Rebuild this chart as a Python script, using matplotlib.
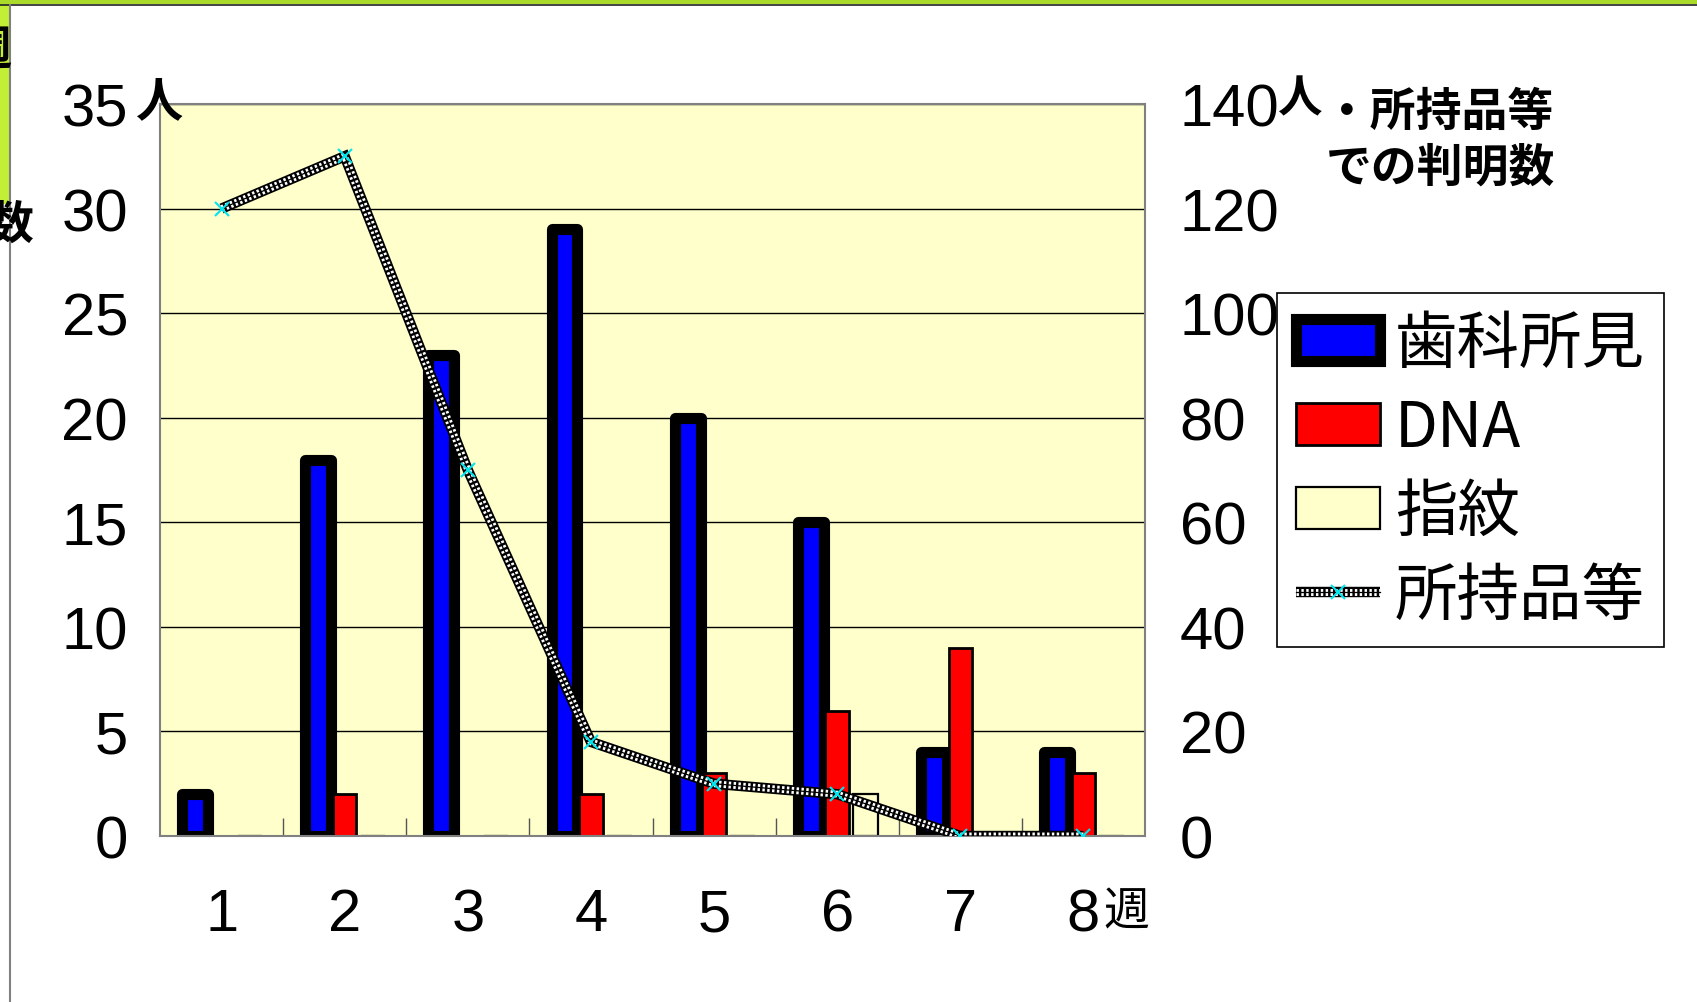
import matplotlib.pyplot as plt
from matplotlib.patches import Rectangle
from matplotlib.lines import Line2D
from matplotlib.legend_handler import HandlerTuple
import numpy as np

W, H = 1697, 1003

# data
weeks = [1, 2, 3, 4, 5, 6, 7, 8]
weekLabels = ["1", "2", "3", "4", "5", "6", "7", "8"]
dental = [2, 18, 23, 29, 20, 15, 4, 4]
dna = [0, 2, 0, 2, 3, 6, 9, 3]
fingerprint = [0, 0, 0, 0, 0, 2, 0, 0]
belongings = [120, 130, 70, 18, 10, 8, 0, 0]
leftTicks = [0, 5, 10, 15, 20, 25, 30, 35]
rightTicks = [0, 20, 40, 60, 80, 100, 120, 140]
seriesNames = ["歯科所見", "DNA", "指紋", "所持品等"]

numFont = ["Liberation Sans", "DejaVu Sans"]
jpFont = ["Noto Sans CJK JP", "DejaVu Sans"]


def fx(px):
    return px / W


def fy(py):
    return 1 - py / H


fig = plt.figure(figsize=(W / 100, H / 100), dpi=100)
fig.patch.set_facecolor("white")

# slide remnants: green band on top and left, gray rule down the left
fig.patches.append(Rectangle((0, fy(5)), 1, 5 / H, transform=fig.transFigure,
                             facecolor="#AADB2B", edgecolor="none"))
fig.add_artist(Line2D([0, 1], [fy(5.5), fy(5.5)], transform=fig.transFigure,
                      color="#222222", lw=1.2))
fig.patches.append(Rectangle((0, fy(205)), 9 / W, 200 / H, transform=fig.transFigure,
                             facecolor="#C2EE35", edgecolor="none"))
fig.add_artist(Line2D([fx(9.5), fx(9.5)], [fy(6), 0], transform=fig.transFigure,
                      color="#808080", lw=1.5))
fig.text(fx(12), fy(52), "週", ha="right", va="center", fontsize=34,
         family=jpFont, fontweight="bold")
fig.text(fx(10), fy(226), "数", ha="center", va="center", fontsize=33,
         family=jpFont, fontweight="bold")

ax = fig.add_axes([fx(160), fy(837), (1145 - 160) / W, (837 - 105) / H])
ax.set_facecolor("#FFFFCC")
ax.set_axisbelow(True)
ax.yaxis.grid(True, color="black", lw=1)

x = np.array(weeks)
b1 = ax.bar(x - 0.215, dental, width=0.21, color="#0000FF", edgecolor="black",
            linewidth=8, joinstyle="round", zorder=2)
b2 = ax.bar(x, dna, width=0.19, color="#FF0000", edgecolor="black",
            linewidth=2, zorder=2)
b3 = ax.bar(x + 0.23, fingerprint, width=0.2, color="#FFFFCC", edgecolor="black",
            linewidth=1.6, zorder=2)

ax.set_xlim(0.5, 8.5)
ax.set_ylim(0, 35)
ax.set_yticks(leftTicks)
ax.set_yticklabels([str(v) for v in leftTicks], fontsize=43, family=numFont)
ax.tick_params(axis="y", length=0, pad=23)
ax.set_xticks(weeks)
ax.set_xticklabels(weekLabels, fontsize=43, family=numFont)
ax.tick_params(axis="x", which="major", length=0, pad=37)
ax.set_xticks(np.arange(1.5, 8.5, 1), minor=True)
ax.tick_params(axis="x", which="minor", direction="in", length=13, width=1,
               color="#555555")
for s in ax.spines.values():
    s.set_color("#808080")
    s.set_linewidth(1.5)

ax2 = ax.twinx()
ax2.set_ylim(0, 140)
ax2.set_yticks(rightTicks)
ax2.set_yticklabels([str(v) for v in rightTicks], fontsize=43, family=numFont)
ax2.tick_params(axis="y", length=0, pad=25)
for s in ax2.spines.values():
    s.set_visible(False)

# checkered thick line
l1, = ax2.plot(weeks, belongings, color="black", lw=7.5, zorder=3,
               solid_joinstyle="miter", solid_capstyle="butt")
l2, = ax2.plot(weeks, belongings, color="white", lw=5, dashes=(0.35, 0.35),
               zorder=4, dash_capstyle="butt")
l3, = ax2.plot(weeks, belongings, color="black", lw=0.9, zorder=5)
l4, = ax2.plot(weeks, belongings, linestyle="none", marker="x", color="#00E5EE",
               markersize=10, markeredgewidth=1.5, zorder=6)

fig.text(fx(160), fy(102), "人", ha="center", va="center", fontsize=34,
         family=jpFont, fontweight="bold")
fig.text(fx(1299), fy(99), "人", ha="center", va="center", fontsize=32,
         family=jpFont, fontweight="bold")
fig.text(fx(1324), fy(113), "・所持品等", ha="left", va="center", fontsize=33,
         family=jpFont, fontweight="bold")
fig.text(fx(1326), fy(169), "での判明数", ha="left", va="center", fontsize=33,
         family=jpFont, fontweight="bold")
fig.text(fx(1126), fy(912), "週", ha="center", va="center", fontsize=33,
         family=jpFont)

leg = fig.legend([b1, b2, b3, (l1, l2, l3, l4)], seriesNames,
                 loc="upper left", bbox_to_anchor=(fx(1277), fy(294)),
                 handler_map={tuple: HandlerTuple(ndivide=1, pad=0)},
                 prop={"family": jpFont, "size": 45},
                 frameon=True, fancybox=False, framealpha=1, edgecolor="black",
                 borderpad=0.3, handlelength=1.35, handleheight=0.65,
                 handletextpad=0.24, labelspacing=0.32, borderaxespad=0)
leg.get_frame().set_linewidth(1.2)

fig.savefig("out.png", dpi=100)
